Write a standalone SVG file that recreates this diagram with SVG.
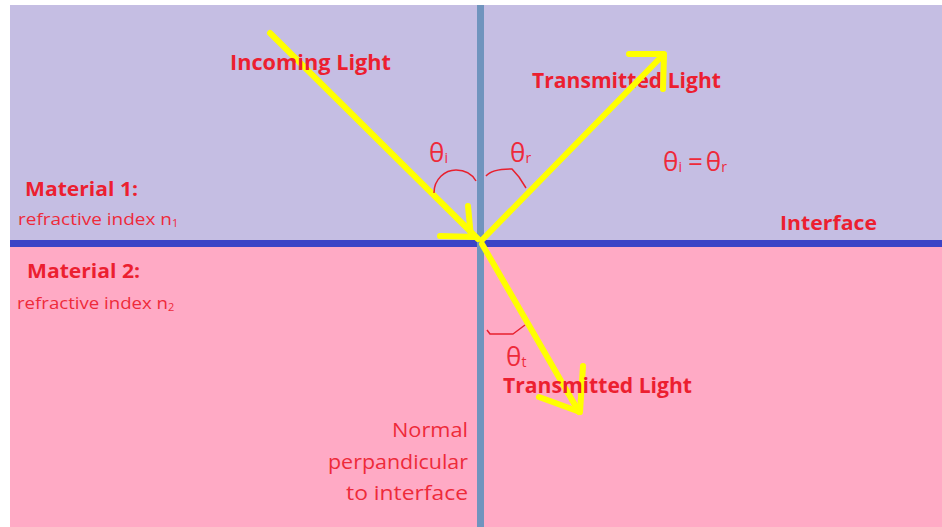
<svg xmlns="http://www.w3.org/2000/svg" width="942" height="527" viewBox="0 0 942 527">
  <style>
    .bold { font-family: "Open Sans", "Liberation Sans", sans-serif; font-weight: bold; fill: #EC1F30; }
    .norm { font-family: "Open Sans", "Liberation Sans", sans-serif; font-weight: normal; fill: #EE2A3A; }
    .ray { stroke: #FFFF00; stroke-width: 6; fill: none; stroke-linecap: round; stroke-linejoin: round; }
    .arc { stroke: #E8202E; stroke-width: 1.5; fill: none; stroke-linejoin: round; }
  </style>
  <rect x="0" y="0" width="942" height="527" fill="#FFFFFF"/>
  <g id="material1">
    <rect x="10" y="5" width="932" height="236" fill="#C5BEE3"/>
    <text class="bold" x="25" y="196" font-size="20" textLength="113" lengthAdjust="spacingAndGlyphs">Material 1:</text>
    <text class="norm" x="18" y="225" font-size="17"><tspan textLength="154" lengthAdjust="spacingAndGlyphs">refractive index n</tspan><tspan font-size="11" dy="2">1</tspan></text>
  </g>
  <g id="material2">
    <rect x="10" y="246" width="932" height="281" fill="#FFAAC5"/>
    <text class="bold" x="27" y="278" font-size="20" textLength="113" lengthAdjust="spacingAndGlyphs">Material 2:</text>
    <text class="norm" x="17" y="309" font-size="17"><tspan textLength="151" lengthAdjust="spacingAndGlyphs">refractive index n</tspan><tspan font-size="11" dy="2">2</tspan></text>
  </g>
  <g id="interface">
    <rect x="10" y="240" width="932" height="7" fill="#3B44C6"/>
    <text class="bold" x="780" y="230" font-size="20" textLength="97" lengthAdjust="spacingAndGlyphs">Interface</text>
  </g>
  <g id="normal">
    <rect x="477" y="5" width="7" height="522" fill="#7094BE"/>
    <text class="norm" font-size="20" text-anchor="end" x="468" y="437" textLength="76" lengthAdjust="spacingAndGlyphs">Normal</text>
    <text class="norm" font-size="20" text-anchor="end" x="468" y="469" textLength="140" lengthAdjust="spacingAndGlyphs">perpandicular</text>
    <text class="norm" font-size="20" text-anchor="end" x="468" y="500" textLength="122" lengthAdjust="spacingAndGlyphs">to interface</text>
  </g>
  <g id="transmitted-top-label">
    <text class="bold" x="532" y="88" font-size="21" textLength="189" lengthAdjust="spacingAndGlyphs">Transmitted Light</text>
  </g>
  <g id="connectors">
    <path class="ray" d="M270,33 L478,239"/>
    <path class="ray" d="M440,236 L475,237 M468,206 L471,237"/>
    <path class="ray" d="M482,240 L663,55"/>
    <path class="ray" d="M629,54 L664,54 L663,89"/>
    <path class="ray" d="M482,244 L579,412"/>
    <path class="ray" d="M583,366 L580,412 L539,397"/>
    <path class="arc" d="M434,193 C434,179 445,170 456,170 C466,170 472,174 476,181"/>
    <path class="arc" d="M486,176 C490,171 499,169 512,169 L519,177 L526,188"/>
    <path class="arc" d="M487,330 L490,334 L513,334 L525,325"/>
  </g>
  <g id="incoming-label">
    <text class="bold" x="230" y="70" font-size="21" textLength="161" lengthAdjust="spacingAndGlyphs">Incoming Light</text>
  </g>
  <g id="transmitted-bottom-label">
    <text class="bold" x="503" y="393" font-size="21" textLength="189" lengthAdjust="spacingAndGlyphs">Transmitted Light</text>
  </g>
  <g id="angle-i">
    <text class="norm" x="429" y="162" font-size="26">θ<tspan font-size="14" dy="1">i</tspan></text>
  </g>
  <g id="angle-r">
    <text class="norm" x="510" y="162" font-size="26">θ<tspan font-size="14" dy="1">r</tspan></text>
  </g>
  <g id="angle-t">
    <text class="norm" x="506" y="366" font-size="26">θ<tspan font-size="14" dy="1">t</tspan></text>
  </g>
  <g id="equation">
    <text class="norm" x="663" y="171" font-size="26">θ<tspan font-size="14" dy="1">i</tspan><tspan dx="6" dy="-1">=</tspan><tspan dx="3">θ</tspan><tspan font-size="14" dy="1">r</tspan></text>
  </g>
</svg>
